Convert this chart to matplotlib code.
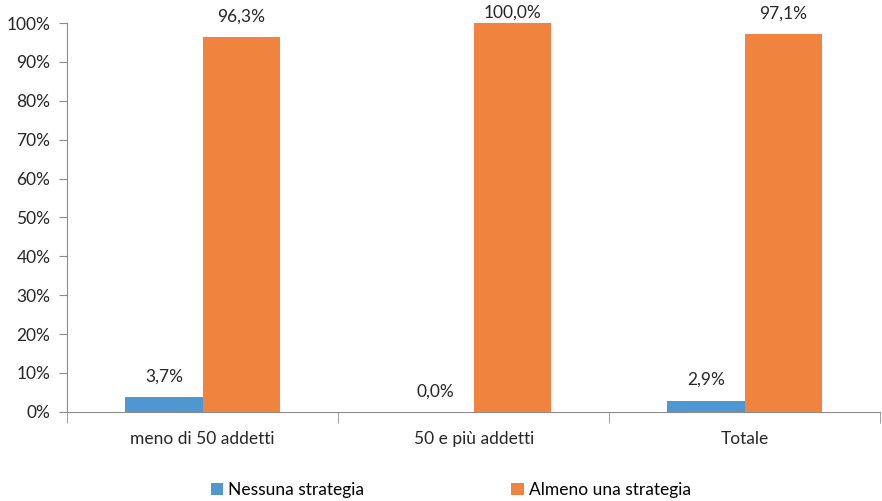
import matplotlib.pyplot as plt
import numpy as np
from matplotlib.ticker import FuncFormatter

# Data
categories = ['meno di 50 addetti', '50 e più addetti', 'Totale']
nessuna = [3.7, 0.0, 2.9]
almeno = [96.3, 100.0, 97.1]
series_names = ['Nessuna strategia', 'Almeno una strategia']

blue = '#4f97d1'
orange = '#f0843e'
grey = '#8c8c8c'
txt = '#262626'
fs = 12.5

plt.rcParams['font.family'] = ['Lato', 'DejaVu Sans']

fig = plt.figure(figsize=(8.82, 5.01), dpi=100)
ax = fig.add_axes([0.076, 0.178, 0.922, 0.776])

x = np.arange(len(categories))
w = 0.285
b1 = ax.bar(x - w / 2, nessuna, w, color=blue, label=series_names[0])
b2 = ax.bar(x + w / 2, almeno, w, color=orange, label=series_names[1])

def fmt(v):
    return ('%.1f' % v).replace('.', ',') + '%'

for bars, vals in [(b1, nessuna), (b2, almeno)]:
    for r, v in zip(bars, vals):
        # labels near the top get pushed down like Excel does
        off = 9 if v < 99 else 2
        ax.annotate(fmt(v), (r.get_x() + r.get_width() / 2, v),
                    xytext=(0, off), textcoords='offset points',
                    ha='center', va='bottom', fontsize=fs, color=txt,
                    annotation_clip=False)

ax.set_ylim(0, 100)
ax.set_xlim(-0.5, 2.5)
ax.set_yticks(np.arange(0, 101, 10))
ax.yaxis.set_major_formatter(FuncFormatter(lambda v, p: '%d%%' % v))

ax.set_xticks(x)
ax.set_xticklabels(categories)
ax.set_xticks([-0.5, 0.5, 1.5, 2.5], minor=True)
ax.tick_params(axis='x', which='major', length=0, pad=14, labelsize=fs, labelcolor=txt)
ax.tick_params(axis='x', which='minor', length=8, color=grey, direction='out')
ax.tick_params(axis='y', length=6, color=grey, labelsize=fs, labelcolor=txt, pad=6)

for s in ['top', 'right']:
    ax.spines[s].set_visible(False)
ax.spines['left'].set_color(grey)
ax.spines['bottom'].set_color(grey)

fig.legend(loc='lower center', bbox_to_anchor=(0.511, -0.025), ncol=2, frameon=False,
           fontsize=fs, handlelength=0.7, handleheight=0.7, handletextpad=0.3,
           columnspacing=8.5)

fig.savefig('out.png', dpi=100)
